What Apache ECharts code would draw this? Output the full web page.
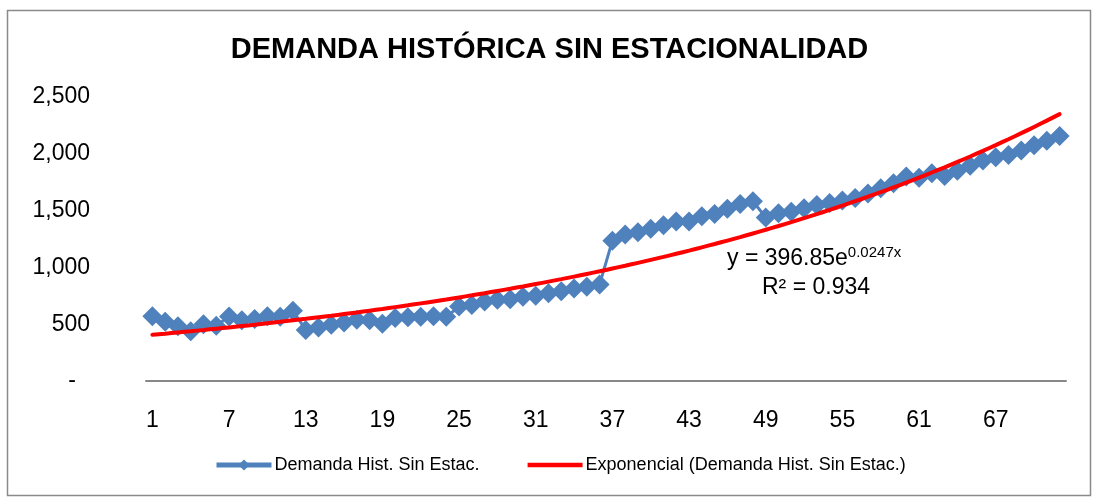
<!DOCTYPE html>
<html>
<head>
<meta charset="utf-8">
<script src="https://cdn.jsdelivr.net/npm/echarts@6/dist/echarts.min.js"></script>
<style>
html,body{margin:0;padding:0;background:#fff;}
#chart{width:1099px;height:499px;}
</style>
</head>
<body>
<div id="chart"></div>
<script>
// ---- data ----
const categories = Array.from({length: 72}, (_, i) => String(i + 1));
const demanda = [
  570, 522, 483, 438, 500, 487, 568, 535, 545, 570, 565, 618,
  450, 470, 495, 515, 540, 535, 505, 555, 562, 565, 570, 565,
  655, 670, 700, 715, 720, 742, 750, 772, 790, 815, 830, 850,
  1235, 1290, 1310, 1340, 1370, 1405, 1405, 1450, 1470, 1517, 1558, 1582,
  1440, 1476, 1490, 1520, 1549, 1567, 1590, 1610, 1650, 1696, 1740, 1800,
  1790, 1828, 1805, 1850, 1895, 1940, 1970, 1990, 2030, 2075, 2115, 2157
];
// printed trendline equation of the chart: y = 396.85 e^(0.0247 x)
const TREND_A = 396.85;
const TREND_B = 0.0247;
const trend = categories.map(c => +(TREND_A * Math.exp(TREND_B * Number(c))).toFixed(1));
const yTicks = [0, 500, 1000, 1500, 2000, 2500];
const seriesNames = ['Demanda Hist. Sin Estac.', 'Exponencial (Demanda Hist. Sin Estac.)'];

const FONT = 'Liberation Sans, Arial, sans-serif';
const chart = echarts.init(document.getElementById('chart'), null, {renderer: 'canvas'});
chart.setOption({
  backgroundColor: '#fff',
  animation: false,
  title: {
    text: 'DEMANDA HISTÓRICA SIN ESTACIONALIDAD',
    left: 'center',
    top: 30,
    textStyle: {fontFamily: FONT, fontSize: 29, fontWeight: 'bold', color: '#000'}
  },
  grid: {left: 146, right: 33, top: 97, bottom: 118, containLabel: false},
  legend: {
    bottom: 20,
    left: 209,
    itemWidth: 55,
    itemHeight: 14,
    itemGap: 48,
    textStyle: {fontFamily: FONT, fontSize: 18, color: '#000', padding: [0,0,0,-2]},
    data: [
      {name: seriesNames[0], lineStyle: {width: 5}},
      {name: seriesNames[1], icon: 'path://M0,0H110V9H0Z'}
    ]
  },
  xAxis: {
    type: 'category',
    data: categories,
    boundaryGap: true,
    axisLine: {lineStyle: {color: '#888', width: 2}},
    axisTick: {show: false},
    axisLabel: {interval: 5, margin: 28, fontFamily: FONT, fontSize: 23, color: '#000'}
  },
  yAxis: {
    type: 'value',
    min: yTicks[0],
    max: yTicks[yTicks.length - 1],
    interval: 500,
    axisLine: {show: false},
    axisTick: {show: false},
    splitLine: {show: false},
    axisLabel: {
      margin: 56,
      fontFamily: FONT, fontSize: 23, color: '#000',
      formatter: v => v === 0 ? '{d|-}' : v.toLocaleString('en-US'),
      rich: {d: {fontFamily: FONT, fontSize: 23, color: '#000', padding: [0, 14, 0, 0]}}
    }
  },
  series: [
    {
      name: seriesNames[0],
      type: 'line',
      data: demanda,
      symbol: 'diamond',
      symbolSize: 20,
      showAllSymbol: true,
      itemStyle: {color: '#4F81BD'},
      lineStyle: {color: '#4F81BD', width: 3},
      z: 2
    },
    {
      name: seriesNames[1],
      type: 'line',
      data: trend,
      showSymbol: false,
      symbol: 'none',
      smooth: true,
      itemStyle: {color: '#FF0000'},
      lineStyle: {color: '#FF0000', width: 4, cap: 'round'},
      z: 3
    }
  ],
  graphic: [
    {
      type: 'rect',
      shape: {x: 7.5, y: 10.5, width: 1083, height: 485},
      style: {fill: 'none', stroke: '#8a8a8a', lineWidth: 1.5},
      silent: true, z: -1
    },
    {
      type: 'text',
      left: 727, top: 245,
      style: {
        text: '{m|y = 396.85e}{s|0.0247x}',
        rich: {
          m: {fontFamily: FONT, fontSize: 23, color: '#000', verticalAlign: 'bottom'},
          s: {fontFamily: FONT, fontSize: 15, color: '#000', verticalAlign: 'top', padding: [0, 0, 10, 0]}
        }
      }
    },
    {
      type: 'text',
      left: 762, top: 276,
      style: {text: 'R² = 0.934', fontFamily: FONT, fontSize: 23, fill: '#000'}
    }
  ]
});
</script>
</body>
</html>
